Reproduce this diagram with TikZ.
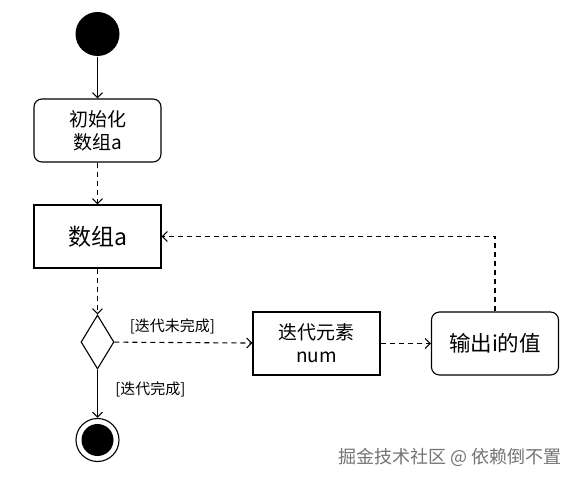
\documentclass[tikz,border=0pt]{standalone}
\usepackage{fontspec}
\setmainfont{Noto Sans CJK SC}
\usetikzlibrary{arrows.meta,positioning,shapes.geometric}

\begin{document}
\begin{tikzpicture}[x=1pt,y=-1pt,>={Straight Barb[length=5pt,width=10pt]},
  line width=1.1pt,
  act/.style={draw,rounded corners=8pt,minimum width=127pt,minimum height=63pt,align=center,inner sep=2pt},
  box/.style={draw,minimum width=127pt,minimum height=63pt,align=center,inner sep=2pt},
  flow/.style={->,dash pattern=on 5pt off 4pt},
  guard/.style={font=\fontsize{15}{17}\selectfont}]
\useasboundingbox (0,0) rectangle (576,481);
% start and first action
\node[circle,fill=black,minimum size=44pt,inner sep=0pt] (start) at (97.5,34) {};
\node[act,font=\fontsize{19}{23}\selectfont] (init) at (97.5,130.5) {初始化\\数组a};
\node[box,font=\fontsize{23}{26}\selectfont] (arr) at (97.5,236.5) {数组a};
% decision
\node[diamond,draw,minimum width=33pt,minimum height=54pt,inner sep=0pt] (dec) at (97.5,342) {};
\node[box,font=\fontsize{19}{23}\selectfont] (iter) at (316.5,343.5) {迭代元素\\num};
\node[act,font=\fontsize{21.5}{24}\selectfont] (print) at (495,343.5) {输出i的值};
% final state
\node[circle,draw,minimum size=43pt,inner sep=0pt] (stop) at (97.5,440) {};
\node[circle,fill=black,minimum size=32pt,inner sep=0pt] (stopin) at (stop) {};
% connectors
\draw[->] (start) -- (init);
\draw[flow] (init) -- (arr);
\draw[flow] (arr) -- (dec);
\draw[flow] (dec) -- node[guard,above=5pt,pos=0.42] {[迭代未完成]} (iter);
\draw[flow] (iter) -- (print);
\draw[flow] (print.north) |- (arr.east);
\draw[->] (dec) -- node[guard,right=14pt,pos=0.4] {[迭代完成]} (stop);
% watermark
\node[text=black!55,font=\fontsize{18}{20}\selectfont] (mark) at (450,457) {掘金技术社区 @ 依赖倒不置};
\end{tikzpicture}
\end{document}
